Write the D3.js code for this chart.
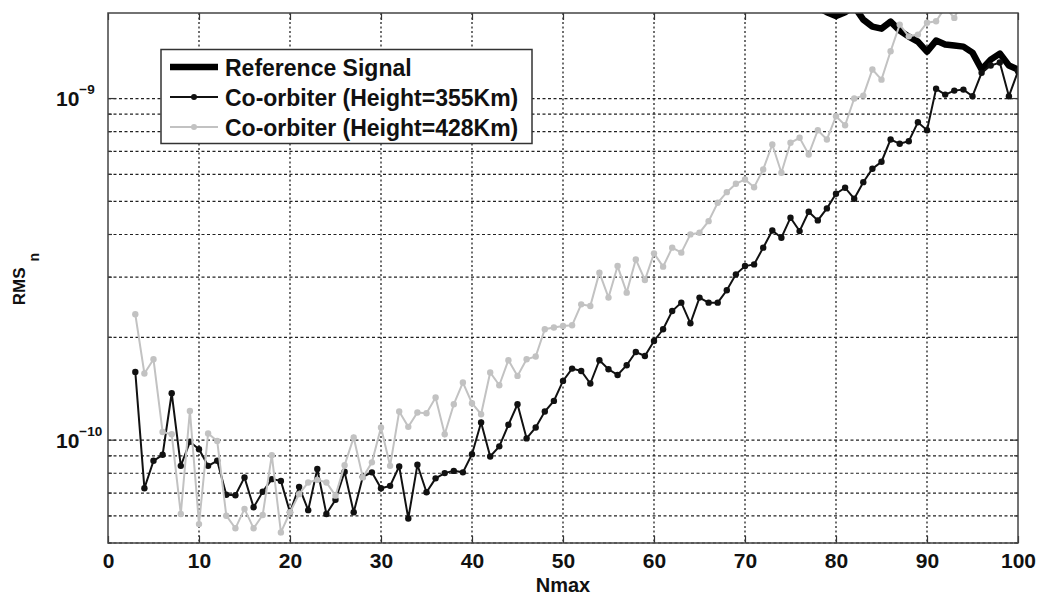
<!DOCTYPE html>
<html><head><meta charset="utf-8">
<script src="https://cdn.jsdelivr.net/npm/d3@7"></script>
<style>
body{margin:0;background:#fff}
svg text{font-family:"Liberation Sans",Arial,Helvetica,sans-serif;font-weight:bold;fill:#111}
</style>
</head><body>
<svg id="chart" width="1040" height="595"></svg>
<script>
// RMS values in units of 1e-10
const nmax355 = d3.range(3, 101);
const rms355 = [1.584,0.723,0.870,0.906,1.372,0.841,0.989,0.941,0.841,0.870,
  0.692,0.690,0.778,0.636,0.706,0.769,0.760,0.615,0.730,0.624,
  0.823,0.608,0.669,0.808,0.615,0.781,0.805,0.723,0.735,0.838,
  0.590,0.847,0.704,0.773,0.801,0.813,0.805,0.910,1.127,0.896,
  0.959,1.109,1.274,1.012,1.089,1.213,1.303,1.491,1.620,1.594,
  1.465,1.714,1.613,1.552,1.657,1.812,1.764,1.951,2.112,2.388,
  2.527,2.198,2.614,2.527,2.527,2.746,3.058,3.233,3.270,3.660,
  4.111,3.914,4.479,4.093,4.664,4.398,4.769,5.265,5.482,5.091,
  5.692,6.230,6.531,7.589,7.372,7.502,8.523,8.076,10.68,10.27,
  10.55,10.62,10.16,11.89,12.49,12.75,10.16,12.02];
const nmax428 = d3.range(3, 95);
const rms428 = [2.336,1.567,1.725,1.057,1.041,0.608,1.218,0.568,1.046,0.995,
  0.601,0.552,0.629,0.552,0.604,0.904,0.537,0.615,0.695,0.752,
  0.765,0.752,0.688,0.845,1.018,0.778,0.861,1.089,0.841,1.213,
  1.094,1.205,1.199,1.333,1.041,1.274,1.475,1.283,1.191,1.578,
  1.448,1.714,1.542,1.725,1.757,2.112,2.136,2.159,2.169,2.498,
  2.470,3.093,2.614,3.233,2.703,3.382,2.943,3.522,3.220,3.660,
  3.539,4.002,4.048,4.377,4.955,5.321,5.630,5.796,5.502,6.201,
  7.337,6.064,7.422,7.675,6.861,8.076,7.589,8.877,8.353,10.0,
  10.20,12.16,11.36,13.75,16.46,15.21,15.39,16.68,16.83,18.5,
  17.22,19.5];
const nmaxRef = d3.range(77, 101);
const rmsRef = [19.0,18.5,17.9,17.43,17.9,18.6,17.02,16.24,16.02,16.80,
  15.81,15.18,14.68,13.72,14.78,14.39,14.29,14.19,13.63,12.16,
  13.0,13.54,12.49,12.16];

const xTicks = [0,10,20,30,40,50,60,70,80,90,100];
const yGrid = [0.5,0.6,0.7,0.8,0.9,1,2,3,4,5,6,7,8,9,10];
const yMajor = [1, 10];
const yMajorExp = ["\u221210", "\u22129"];
const legendLabels = ["Reference Signal","Co-orbiter (Height=355Km)","Co-orbiter (Height=428Km)"];
const xTitle = "Nmax";

const L = 108, R = 1018, T = 13, B = 543;
const svg = d3.select("#chart");
const x = d3.scaleLinear().domain([0, 100]).range([L, R]);
const y = d3.scaleLog().domain([0.5, 17.8]).range([B, T]);

svg.append("defs").append("clipPath").attr("id","clip")
  .append("rect").attr("x",L).attr("y",T).attr("width",R-L).attr("height",B-T);

// grid
const grid = svg.append("g");
grid.selectAll(".hg").data(yGrid).join("line")
  .attr("x1",L).attr("x2",R).attr("y1",d=>y(d)).attr("y2",d=>y(d))
  .attr("stroke","#222").attr("stroke-width",1.2).attr("stroke-dasharray","3,2.5");
grid.selectAll(".vg").data(xTicks.slice(1,-1)).join("line")
  .attr("y1",T).attr("y2",B).attr("x1",d=>x(d)).attr("x2",d=>x(d))
  .attr("stroke","#222").attr("stroke-width",1.3).attr("stroke-dasharray","2,2.5");

// ticks
const ticks = svg.append("g").attr("stroke","#333").attr("stroke-width",1.2);
yGrid.forEach(v=>{
  const len = yMajor.includes(v) ? 8 : 4;
  ticks.append("line").attr("x1",L).attr("x2",L+len).attr("y1",y(v)).attr("y2",y(v));
  ticks.append("line").attr("x1",R).attr("x2",R-len).attr("y1",y(v)).attr("y2",y(v));
});

// x axis via d3 axis
const xAxis = svg.append("g").attr("transform",`translate(0,${B})`)
  .call(d3.axisBottom(x).tickValues(xTicks).tickSizeInner(-7).tickSizeOuter(0).tickPadding(0));
xAxis.select(".domain").remove();
xAxis.selectAll(".tick line").attr("stroke","#333").attr("stroke-width",1.2);
xAxis.selectAll(".tick text").attr("y",25).attr("dy",0).attr("font-size",21)
  .style("font-family","'Liberation Sans',Arial,sans-serif").style("font-weight","bold").attr("fill","#111");
const xAxisTop = svg.append("g").attr("transform",`translate(0,${T})`)
  .call(d3.axisTop(x).tickValues(xTicks).tickSizeInner(-7).tickSizeOuter(0).tickFormat(""));
xAxisTop.select(".domain").remove();
xAxisTop.selectAll(".tick line").attr("stroke","#333").attr("stroke-width",1.2);

// y labels
yMajor.forEach((v,i)=>{
  const t = svg.append("text").attr("x",56).attr("y",y(v)+7.5).attr("font-size",21);
  t.append("tspan").text("10");
  t.append("tspan").attr("dy",-12).attr("font-size",13.5).text(yMajorExp[i]);
});

// axis titles
svg.append("text").attr("x",(L+R)/2).attr("y",592).attr("text-anchor","middle")
  .attr("font-size",20).text(xTitle);
const yt = svg.append("text").attr("transform","translate(25,279) rotate(-90)")
  .attr("text-anchor","middle").attr("font-size",17);
yt.append("tspan").text("RMS");
yt.append("tspan").attr("dx",6).attr("dy",14).attr("font-size",14).text("n");

// data lines
const plot = svg.append("g").attr("clip-path","url(#clip)");
const line = d3.line().x(d=>x(d[0])).y(d=>y(d[1]));
const refData = nmaxRef.map((n,i)=>[n,rmsRef[i]]);
const d355 = nmax355.map((n,i)=>[n,rms355[i]]);
const d428 = nmax428.map((n,i)=>[n,rms428[i]]);

plot.append("path").attr("d",line(refData)).attr("fill","none")
  .attr("stroke","#000").attr("stroke-width",6.5).attr("stroke-linejoin","round");
plot.append("path").attr("d",line(d355)).attr("fill","none")
  .attr("stroke","#111").attr("stroke-width",2);
plot.selectAll(".m355").data(d355).join("circle")
  .attr("cx",d=>x(d[0])).attr("cy",d=>y(d[1])).attr("r",3.2).attr("fill","#111");
plot.append("path").attr("d",line(d428)).attr("fill","none")
  .attr("stroke","#c2c2c2").attr("stroke-width",2);
plot.selectAll(".m428").data(d428).join("circle")
  .attr("cx",d=>x(d[0])).attr("cy",d=>y(d[1])).attr("r",3.2).attr("fill","#c2c2c2");

// box
svg.append("rect").attr("x",L).attr("y",T).attr("width",R-L).attr("height",B-T)
  .attr("fill","none").attr("stroke","#444").attr("stroke-width",1.5);

// legend
const lg = svg.append("g");
lg.append("rect").attr("x",161).attr("y",49.5).attr("width",371).attr("height",94)
  .attr("fill","#fff").attr("stroke","#333").attr("stroke-width",1.5);
const lstyles = [{c:"#000",w:6.5,m:false},{c:"#111",w:2,m:true},{c:"#c2c2c2",w:2,m:true}];
legendLabels.forEach((lab,i)=>{
  const cy = 67 + 30*i;
  lg.append("line").attr("x1",170).attr("x2",218).attr("y1",cy).attr("y2",cy)
    .attr("stroke",lstyles[i].c).attr("stroke-width",lstyles[i].w);
  if (lstyles[i].m) lg.append("circle").attr("cx",194).attr("cy",cy).attr("r",3).attr("fill",lstyles[i].c);
  lg.append("text").attr("x",225).attr("y",cy+8.5).attr("font-size",23).text(lab);
});
</script>
</body></html>
